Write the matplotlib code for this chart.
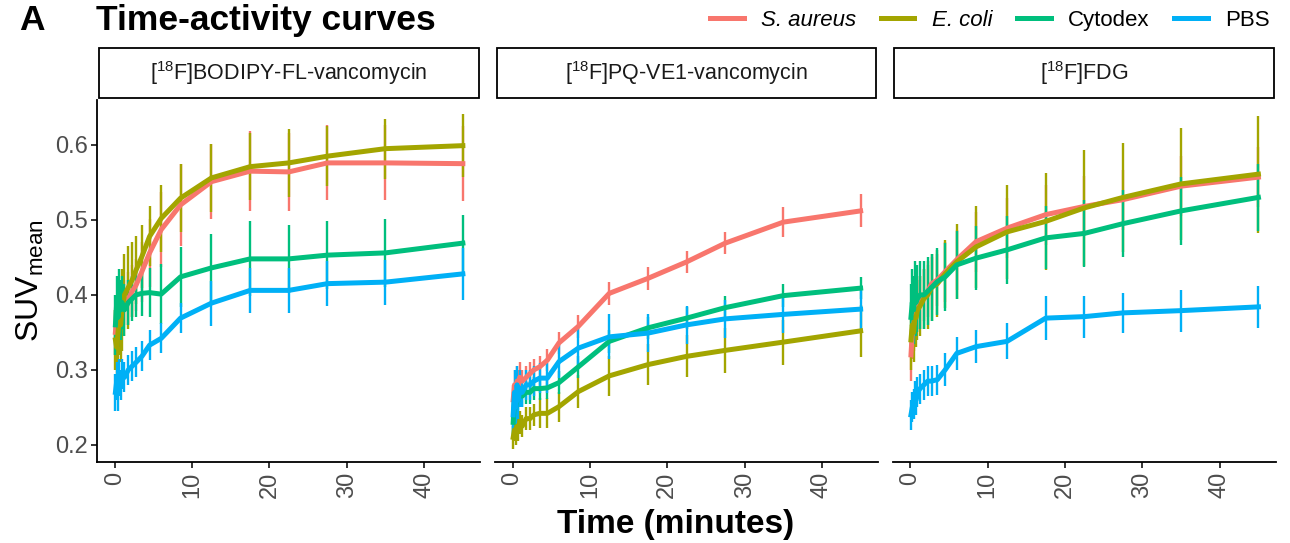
import matplotlib
matplotlib.use("Agg")
import matplotlib.pyplot as plt
import matplotlib.patches as mpatches
from matplotlib.lines import Line2D

plt.rcParams['font.family'] = ['Liberation Sans', 'DejaVu Sans']
plt.rcParams['mathtext.fontset'] = 'custom'
plt.rcParams['mathtext.rm'] = 'Liberation Sans'
plt.rcParams['mathtext.it'] = 'Liberation Sans:italic'
plt.rcParams['mathtext.bf'] = 'Liberation Sans:bold'

# frame mid times (minutes)
times = [0.08, 0.25, 0.42, 0.58, 0.75, 0.92, 1.25, 1.75, 2.25, 2.75,
         3.5, 4.5, 6, 8.5, 12.5, 17.5, 22.5, 27.5, 35, 45]

groups = ['S. aureus', 'E. coli', 'Cytodex', 'PBS']
group_colors = ['#F8766D', '#A3A500', '#00BF7D', '#00B0F6']
tracers = [r'[$^{\mathregular{18}}$F]BODIPY-FL-vancomycin',
           r'[$^{\mathregular{18}}$F]PQ-VE1-vancomycin',
           r'[$^{\mathregular{18}}$F]FDG']

# --- [18F]BODIPY-FL-vancomycin ---
bodipy_saureus = [0.35, 0.37, 0.36, 0.38, 0.37, 0.38, 0.39, 0.395, 0.405, 0.413,
                  0.431, 0.456, 0.487, 0.52, 0.551, 0.565, 0.564, 0.576, 0.576, 0.575]
bodipy_saureus_sd = [0.03, 0.03, 0.03, 0.03, 0.03, 0.03, 0.03, 0.035, 0.035, 0.035,
                     0.04, 0.045, 0.05, 0.055, 0.05, 0.053, 0.052, 0.05, 0.05, 0.05]
bodipy_ecoli = [0.34, 0.33, 0.35, 0.37, 0.36, 0.38, 0.40, 0.41, 0.42, 0.433,
                0.451, 0.478, 0.502, 0.529, 0.556, 0.571, 0.576, 0.585, 0.595, 0.599]
bodipy_ecoli_sd = [0.04, 0.045, 0.05, 0.05, 0.05, 0.055, 0.055, 0.055, 0.05, 0.045,
                   0.042, 0.04, 0.045, 0.045, 0.045, 0.045, 0.045, 0.04, 0.04, 0.042]
bodipy_cytodex = [0.36, 0.39, 0.37, 0.40, 0.38, 0.39, 0.38, 0.39, 0.395, 0.40,
                  0.402, 0.403, 0.401, 0.424, 0.436, 0.448, 0.448, 0.453, 0.456, 0.469]
bodipy_cytodex_sd = [0.04, 0.035, 0.04, 0.035, 0.04, 0.035, 0.035, 0.03, 0.03, 0.03,
                     0.03, 0.033, 0.04, 0.04, 0.045, 0.05, 0.045, 0.045, 0.045, 0.038]
bodipy_pbs = [0.27, 0.285, 0.27, 0.29, 0.28, 0.295, 0.29, 0.30, 0.305, 0.31,
              0.318, 0.333, 0.342, 0.369, 0.389, 0.406, 0.406, 0.415, 0.417, 0.428]
bodipy_pbs_sd = [0.025, 0.025, 0.025, 0.025, 0.02, 0.02, 0.02, 0.02, 0.02, 0.02,
                 0.02, 0.02, 0.02, 0.02, 0.03, 0.03, 0.03, 0.03, 0.03, 0.035]

# --- [18F]PQ-VE1-vancomycin ---
pqve1_saureus = [0.26, 0.28, 0.27, 0.285, 0.28, 0.29, 0.285, 0.29, 0.295, 0.30,
                 0.304, 0.313, 0.336, 0.358, 0.402, 0.422, 0.444, 0.469, 0.497, 0.512]
pqve1_saureus_sd = [0.02, 0.02, 0.02, 0.02, 0.02, 0.02, 0.015, 0.015, 0.015, 0.015,
                    0.015, 0.015, 0.015, 0.015, 0.015, 0.015, 0.015, 0.015, 0.02, 0.022]
pqve1_ecoli = [0.21, 0.22, 0.215, 0.225, 0.22, 0.23, 0.225, 0.235, 0.235, 0.24,
               0.242, 0.242, 0.251, 0.271, 0.292, 0.307, 0.318, 0.326, 0.337, 0.352]
pqve1_ecoli_sd = [0.015, 0.015, 0.015, 0.015, 0.015, 0.015, 0.015, 0.015, 0.015, 0.015,
                  0.02, 0.02, 0.02, 0.022, 0.027, 0.027, 0.028, 0.03, 0.03, 0.035]
pqve1_cytodex = [0.23, 0.26, 0.25, 0.265, 0.26, 0.27, 0.265, 0.27, 0.27, 0.275,
                 0.275, 0.276, 0.283, 0.304, 0.338, 0.356, 0.369, 0.383, 0.399, 0.409]
pqve1_cytodex_sd = [0.02, 0.02, 0.02, 0.015, 0.015, 0.015, 0.015, 0.015, 0.015, 0.015,
                    0.015, 0.015, 0.015, 0.015, 0.015, 0.015, 0.015, 0.015, 0.015, 0.015]
pqve1_pbs = [0.24, 0.27, 0.25, 0.28, 0.26, 0.275, 0.27, 0.28, 0.28, 0.285,
             0.289, 0.289, 0.311, 0.329, 0.344, 0.349, 0.36, 0.368, 0.374, 0.381]
pqve1_pbs_sd = [0.03, 0.03, 0.03, 0.025, 0.025, 0.025, 0.02, 0.02, 0.02, 0.02,
                0.02, 0.02, 0.022, 0.027, 0.03, 0.025, 0.025, 0.025, 0.025, 0.028]

# --- [18F]FDG ---
fdg_saureus = [0.32, 0.35, 0.36, 0.37, 0.375, 0.385, 0.39, 0.40, 0.405, 0.415,
               0.42, 0.431, 0.447, 0.471, 0.489, 0.507, 0.518, 0.527, 0.545, 0.557]
fdg_saureus_sd = [0.035, 0.035, 0.035, 0.035, 0.035, 0.035, 0.035, 0.035, 0.035, 0.035,
                  0.035, 0.04, 0.04, 0.04, 0.04, 0.04, 0.04, 0.04, 0.04, 0.04]
fdg_ecoli = [0.34, 0.36, 0.35, 0.37, 0.37, 0.38, 0.385, 0.395, 0.40, 0.41,
             0.415, 0.428, 0.444, 0.464, 0.484, 0.498, 0.516, 0.53, 0.548, 0.561]
fdg_ecoli_sd = [0.04, 0.04, 0.04, 0.04, 0.04, 0.04, 0.04, 0.04, 0.045, 0.045,
                0.045, 0.045, 0.05, 0.055, 0.063, 0.065, 0.077, 0.073, 0.075, 0.078]
fdg_cytodex = [0.37, 0.39, 0.38, 0.40, 0.39, 0.395, 0.40, 0.40, 0.405, 0.41,
               0.418, 0.424, 0.44, 0.449, 0.46, 0.476, 0.482, 0.495, 0.512, 0.53]
fdg_cytodex_sd = [0.045, 0.045, 0.045, 0.045, 0.045, 0.045, 0.045, 0.045, 0.045, 0.045,
                  0.045, 0.045, 0.045, 0.043, 0.045, 0.042, 0.045, 0.045, 0.045, 0.045]
fdg_pbs = [0.24, 0.25, 0.255, 0.265, 0.26, 0.27, 0.275, 0.28, 0.285, 0.285,
           0.287, 0.30, 0.322, 0.331, 0.338, 0.369, 0.371, 0.376, 0.379, 0.384]
fdg_pbs_sd = [0.02, 0.02, 0.02, 0.02, 0.02, 0.02, 0.02, 0.02, 0.02, 0.02,
              0.02, 0.022, 0.022, 0.022, 0.024, 0.029, 0.028, 0.027, 0.028, 0.028]

panel_means = [
    [bodipy_saureus, bodipy_ecoli, bodipy_cytodex, bodipy_pbs],
    [pqve1_saureus, pqve1_ecoli, pqve1_cytodex, pqve1_pbs],
    [fdg_saureus, fdg_ecoli, fdg_cytodex, fdg_pbs],
]
panel_sds = [
    [bodipy_saureus_sd, bodipy_ecoli_sd, bodipy_cytodex_sd, bodipy_pbs_sd],
    [pqve1_saureus_sd, pqve1_ecoli_sd, pqve1_cytodex_sd, pqve1_pbs_sd],
    [fdg_saureus_sd, fdg_ecoli_sd, fdg_cytodex_sd, fdg_pbs_sd],
]

fig, axes = plt.subplots(1, 3, figsize=(12.9, 5.43), dpi=100, sharey=True)
fig.subplots_adjust(left=0.0755, right=0.989, bottom=0.149, top=0.816, wspace=0.039)

tick_grey = '#4D4D4D'

for i, ax in enumerate(axes):
    # one errorbar+line per group, drawn in factor order (PBS ends on top)
    for means, sds, color in zip(panel_means[i], panel_sds[i], group_colors):
        ax.errorbar(times, means, yerr=sds, color=color, lw=3.6,
                    elinewidth=1.7, capsize=0)

    ax.set_xlim(-2.25, 47.25)
    ax.set_ylim(0.177, 0.66)
    ax.set_xticks([0, 10, 20, 30, 40])
    ax.set_yticks([0.2, 0.3, 0.4, 0.5, 0.6])

    # classic theme: left/bottom axis lines only
    ax.spines['top'].set_visible(False)
    ax.spines['right'].set_visible(False)
    ax.spines['bottom'].set_linewidth(1.3)
    ax.spines['left'].set_linewidth(1.3)
    ax.tick_params(axis='both', direction='out', length=4, width=1.1,
                   color='black', labelsize=17, labelcolor=tick_grey, pad=3)
    for lbl in ax.get_xticklabels():
        lbl.set_rotation(90)

    if i > 0:
        ax.spines['left'].set_visible(False)
        ax.tick_params(axis='y', left=False, labelleft=False)

    # facet strip above each panel
    strip = mpatches.Rectangle((0.004, 1.004), 0.992, 0.14, transform=ax.transAxes,
                               facecolor='white', edgecolor='black', lw=1.3,
                               clip_on=False)
    ax.add_patch(strip)
    ax.text(0.5, 1.074, tracers[i], transform=ax.transAxes, ha='center',
            va='center', fontsize=15.5, color='#1A1A1A')

axes[0].set_yticklabels(['0.2', '0.3', '0.4', '0.5', '0.6'])
axes[0].set_ylabel(r'SUV$_{\mathregular{mean}}$', fontsize=23, labelpad=6)
fig.supxlabel('Time (minutes)', x=0.524, y=0.006, fontsize=24, fontweight='bold')

# panel letter and title
fig.text(0.015, 0.945, 'A', fontsize=25.5, fontweight='bold', va='baseline')
fig.text(0.0745, 0.945, 'Time-activity curves', fontsize=25.5, fontweight='bold',
         va='baseline')

# legend at the top right
handles = [Line2D([0], [0], color=c, lw=3.6) for c in group_colors]
leg = fig.legend(handles, groups, ncol=4, loc='center right',
                 bbox_to_anchor=(1.0, 0.962), frameon=False, fontsize=16,
                 handlelength=1.5, handletextpad=0.8, columnspacing=1.1)
for txt in leg.get_texts()[:2]:
    txt.set_fontstyle('italic')

fig.savefig('out.png', dpi=100)
